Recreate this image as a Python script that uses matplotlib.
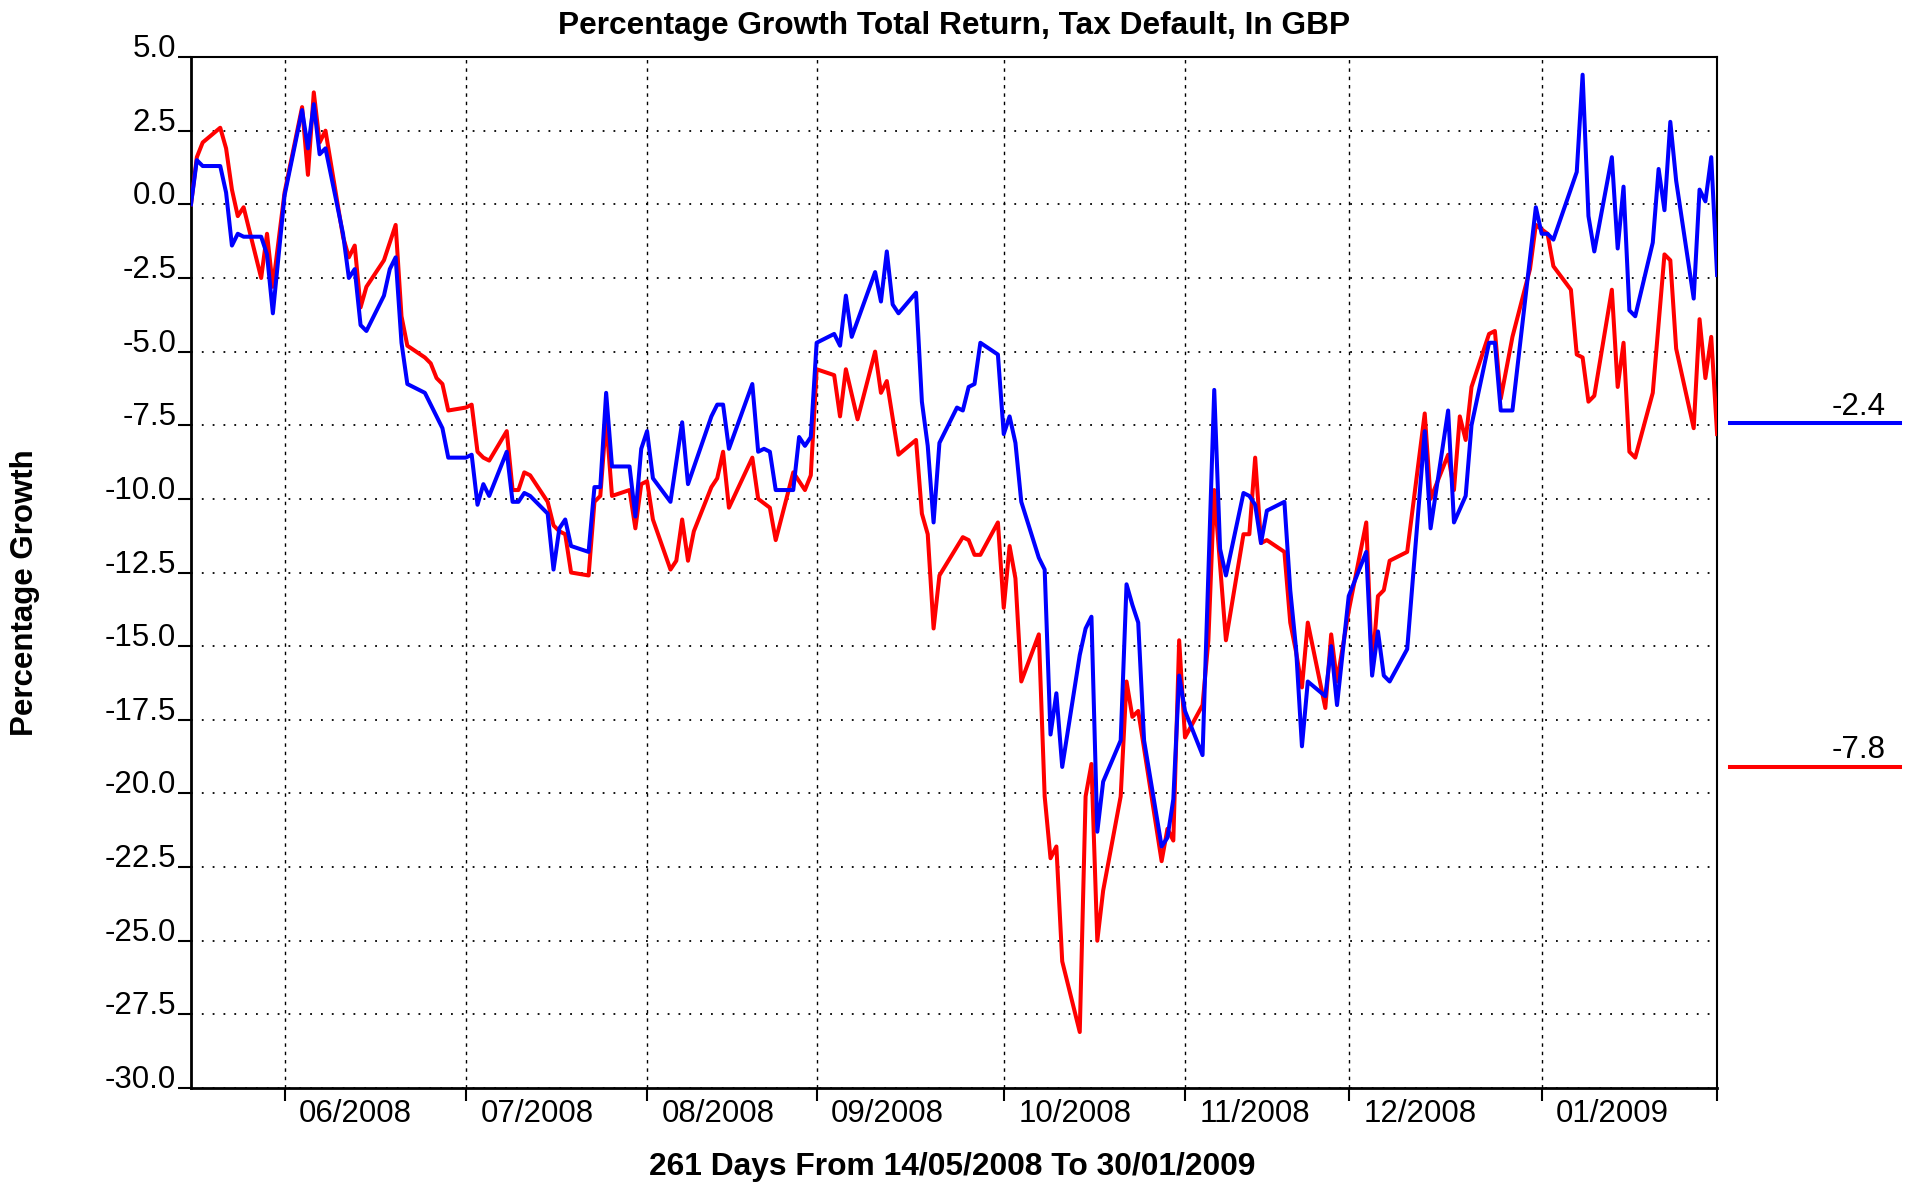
import numpy as np
import pandas as pd
import matplotlib
matplotlib.use("Agg")
import matplotlib.pyplot as plt
from matplotlib.lines import Line2D
from matplotlib.transforms import ScaledTranslation

plt.rcParams['font.family'] = ['Liberation Sans', 'DejaVu Sans']

# period shown
start = pd.Timestamp('2008-05-14')
end = pd.Timestamp('2009-01-30')

# blue series: days after start, percentage growth
blue_day = [0, 1, 2, 5, 6, 7, 8, 9, 12, 13, 14, 16, 19, 20, 21, 22, 23, 26, 27, 28,
            29, 30, 33, 34, 35, 36, 37, 40, 41, 43, 44, 47, 48, 49, 50, 51, 54, 55, 56, 57,
            58, 61, 62, 63, 64, 65, 68, 69, 70, 71, 72, 75, 76, 77, 78, 79, 82, 84, 85, 89,
            90, 91, 92, 96, 97, 98, 99, 100, 103, 104, 105, 106, 107, 110, 111, 112, 113, 117, 118, 119,
            120, 121, 124, 125, 126, 127, 128, 131, 132, 133, 134, 135, 138, 139, 140, 141, 142, 145, 146, 147,
            148, 149, 152, 153, 154, 155, 156, 159, 160, 161, 162, 163, 166, 167, 168, 169, 170, 173, 175, 176,
            177, 180, 181, 182, 183, 184, 187, 188, 189, 190, 191, 194, 195, 196, 198, 201, 202, 203, 204, 205,
            208, 211, 212, 215, 216, 218, 219, 222, 223, 224, 226, 230, 231, 232, 233, 237, 238, 239, 240, 243,
            244, 245, 246, 247, 250, 251, 252, 253, 254, 257, 258, 259, 260, 261]
blue_val = [0.0, 1.5, 1.3, 1.3, 0.4, -1.4, -1.0, -1.1, -1.1, -1.7, -3.7, 0.3, 3.2, 1.9, 3.4, 1.7, 1.9, -1.0, -2.5, -2.2,
            -4.1, -4.3, -3.1, -2.2, -1.8, -4.7, -6.1, -6.4, -6.8, -7.6, -8.6, -8.6, -8.5, -10.2, -9.5, -9.9, -8.4, -10.1, -10.1, -9.8,
            -9.9, -10.5, -12.4, -11.0, -10.7, -11.6, -11.8, -9.6, -9.6, -6.4, -8.9, -8.9, -10.6, -8.3, -7.7, -9.3, -10.1, -7.4, -9.5, -7.2,
            -6.8, -6.8, -8.3, -6.1, -8.4, -8.3, -8.4, -9.7, -9.7, -7.9, -8.2, -7.9, -4.7, -4.4, -4.8, -3.1, -4.5, -2.3, -3.3, -1.6,
            -3.4, -3.7, -3.0, -6.7, -8.2, -10.8, -8.1, -6.9, -7.0, -6.2, -6.1, -4.7, -5.1, -7.8, -7.2, -8.1, -10.1, -12.0, -12.4, -18.0,
            -16.6, -19.1, -15.3, -14.4, -14.0, -21.3, -19.6, -18.2, -12.9, -13.6, -14.2, -18.2, -21.8, -21.5, -20.2, -16.0, -17.2, -18.7, -6.3, -11.7,
            -12.6, -9.8, -9.9, -10.2, -11.5, -10.4, -10.1, -13.1, -15.1, -18.4, -16.2, -16.7, -15.0, -17.0, -13.3, -11.8, -16.0, -14.5, -16.0, -16.2,
            -15.1, -7.7, -11.0, -7.0, -10.8, -9.9, -7.5, -4.7, -4.7, -7.0, -7.0, -0.1, -1.0, -1.0, -1.2, 1.1, 4.4, -0.4, -1.6, 1.6,
            -1.5, 0.6, -3.6, -3.8, -1.3, 1.2, -0.2, 2.8, 0.8, -3.2, 0.5, 0.1, 1.6, -2.4]

# red series
red_day = [0, 1, 2, 5, 6, 7, 8, 9, 12, 13, 14, 16, 19, 20, 21, 22, 23, 26, 27, 28,
           29, 30, 33, 34, 35, 36, 37, 40, 41, 42, 43, 44, 47, 48, 49, 50, 51, 54, 55, 56,
           57, 58, 61, 62, 63, 64, 65, 68, 69, 70, 71, 72, 75, 76, 77, 78, 79, 82, 83, 84,
           85, 86, 89, 90, 91, 92, 96, 97, 99, 100, 103, 105, 106, 107, 110, 111, 112, 114, 117, 118,
           119, 121, 124, 125, 126, 127, 128, 132, 133, 134, 135, 138, 139, 140, 141, 142, 145, 146, 147, 148,
           149, 152, 153, 154, 155, 156, 159, 160, 161, 162, 166, 167, 168, 169, 170, 173, 174, 175, 177, 180,
           181, 182, 183, 184, 187, 188, 189, 190, 191, 194, 195, 196, 198, 201, 202, 203, 204, 205, 208, 211,
           212, 215, 216, 217, 218, 219, 222, 223, 224, 226, 229, 230, 232, 233, 236, 237, 238, 239, 240, 243,
           244, 245, 246, 247, 250, 252, 253, 254, 257, 258, 259, 260, 261]
red_val = [0.0, 1.6, 2.1, 2.6, 1.9, 0.5, -0.4, -0.1, -2.5, -1.0, -2.8, 0.4, 3.3, 1.0, 3.8, 2.1, 2.5, -1.1, -1.8, -1.4,
           -3.5, -2.8, -1.9, -1.3, -0.7, -3.8, -4.8, -5.2, -5.4, -5.9, -6.1, -7.0, -6.9, -6.8, -8.4, -8.6, -8.7, -7.7, -9.7, -9.7,
           -9.1, -9.2, -10.1, -10.9, -11.1, -11.2, -12.5, -12.6, -10.1, -9.9, -7.3, -9.9, -9.7, -11.0, -9.5, -9.4, -10.7, -12.4, -12.1, -10.7,
           -12.1, -11.1, -9.6, -9.3, -8.4, -10.3, -8.6, -10.0, -10.3, -11.4, -9.1, -9.7, -9.2, -5.6, -5.8, -7.2, -5.6, -7.3, -5.0, -6.4,
           -6.0, -8.5, -8.0, -10.5, -11.2, -14.4, -12.6, -11.3, -11.4, -11.9, -11.9, -10.8, -13.7, -11.6, -12.7, -16.2, -14.6, -20.1, -22.2, -21.8,
           -25.7, -28.1, -20.1, -19.0, -25.0, -23.3, -20.1, -16.2, -17.4, -17.2, -22.3, -21.2, -21.6, -14.8, -18.1, -17.0, -14.8, -9.7, -14.8, -11.2,
           -11.2, -8.6, -11.5, -11.4, -11.8, -14.2, -15.2, -16.4, -14.2, -17.1, -14.6, -16.2, -13.8, -10.8, -15.8, -13.3, -13.1, -12.1, -11.8, -7.1,
           -10.0, -8.5, -9.7, -7.2, -8.0, -6.2, -4.4, -4.3, -6.6, -4.5, -2.2, -0.7, -1.0, -2.1, -2.9, -5.1, -5.2, -6.7, -6.5, -2.9,
           -6.2, -4.7, -8.4, -8.6, -6.4, -1.7, -1.9, -4.9, -7.6, -3.9, -5.9, -4.5, -7.8]

# month-end ticks and the month label drawn after each
tick_dates = ['2008-05-30', '2008-06-30', '2008-07-31', '2008-08-29', '2008-09-30',
              '2008-10-31', '2008-11-28', '2008-12-31', '2009-01-30']
tick_labels = ['06/2008', '07/2008', '08/2008', '09/2008', '10/2008',
               '11/2008', '12/2008', '01/2009', '']
y_ticks = np.arange(-30, 5.01, 2.5)

fs = 22.5
fig = plt.figure(figsize=(19.1, 11.92), dpi=100)
ax = fig.add_axes([0.1, 0.08725, 0.799, 0.8649])

blue_x = start + pd.to_timedelta(blue_day, unit='D')
red_x = start + pd.to_timedelta(red_day, unit='D')
ax.plot(red_x, red_val, color='#ff0000', lw=2.9, zorder=3)
ax.plot(blue_x, blue_val, color='#0000ff', lw=2.9, zorder=4)

ax.set_xlim(start, end)
ax.set_ylim(-30, 5)

ax.set_yticks(y_ticks)
ax.set_yticklabels([f"{v:.1f}" for v in y_ticks], fontsize=fs)
for lab in ax.get_yticklabels():
    lab.set_va('baseline')
ax.tick_params(axis='y', direction='out', length=9.6, width=1.5, pad=1, color='black')

ax.set_xticks(pd.to_datetime(tick_dates))
ax.set_xticklabels(tick_labels, fontsize=fs, ha='left')
ax.tick_params(axis='x', direction='out', length=9.6, width=1.5, pad=-1.5, color='black')
shift = ScaledTranslation(0.145, 0, fig.dpi_scale_trans)
for lab in ax.get_xticklabels():
    lab.set_transform(lab.get_transform() + shift)

ax.xaxis.grid(True, linestyle=(0, (2.5, 3.5)), color='black', lw=1.0)
ax.yaxis.grid(True, linestyle=(0, (1, 5)), color='black', lw=1.3)
ax.set_axisbelow(True)

for side in ['left', 'bottom']:
    ax.spines[side].set_linewidth(2.0)
for side in ['top', 'right']:
    ax.spines[side].set_linewidth(1.5)

fig.text(0.4995, 1 - 34 / 1192, 'Percentage Growth Total Return, Tax Default, In GBP',
         ha='center', va='baseline', fontsize=22.8, fontweight='bold')
fig.text(0.4987, 1 - 1175 / 1192, '261 Days From 14/05/2008 To 30/01/2009',
         ha='center', va='baseline', fontsize=22.9, fontweight='bold')
fig.text(25 / 1910, 1 - 593 / 1192, 'Percentage Growth', rotation=90,
         ha='center', va='center', fontsize=fs, fontweight='bold')

# end values beside the chart
for val, col, ypix in [(blue_val[-1], '#0000ff', 422.6), (red_val[-1], '#ff0000', 766.5)]:
    yf = 1 - ypix / 1192
    fig.add_artist(Line2D([1730 / 1910, 1900 / 1910], [yf, yf], color=col, lw=2.9,
                          transform=fig.transFigure))
    fig.text(1886 / 1910, yf + 8 / 1192, f"{val:.1f}", ha='right', va='baseline', fontsize=fs)

fig.savefig('out.png', dpi=100)
